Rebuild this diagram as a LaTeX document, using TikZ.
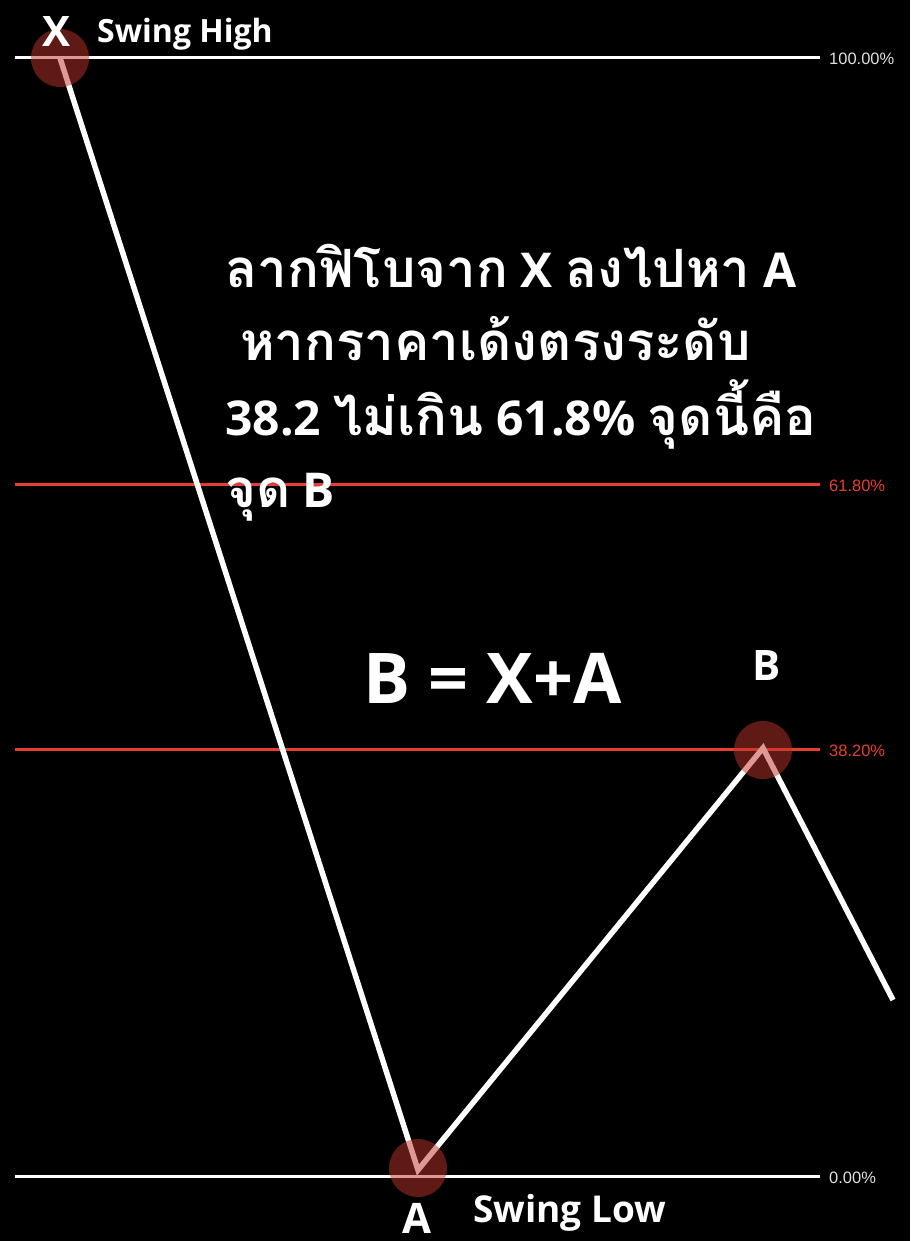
\documentclass[tikz,border=0pt]{standalone}
\usepackage{fontspec}
\setmainfont{Open Sans}
\newfontfamily\thaifont[Script=Thai,Scale=1.1]{Loma}
\newfontfamily\lblfont{Liberation Sans}
\definecolor{fibred}{RGB}{232,62,50}
\definecolor{fibgrey}{RGB}{225,225,225}
\definecolor{dotred}{RGB}{190,52,42}
\begin{document}
\begin{tikzpicture}[x=1pt,y=-1pt,
  hline/.style={line width=3pt},
  wave/.style={white,line width=5.5pt,line join=miter},
  dot/.style={circle,fill=dotred,fill opacity=0.5,minimum size=58pt,inner sep=0pt},
  lvl/.style={anchor=base west,inner sep=0pt,font=\lblfont\fontsize{16.5}{16}\selectfont},
  big/.style={anchor=base,inner sep=0pt,text=white,font=\bfseries\fontsize{42}{42}\selectfont},
  sw/.style={anchor=base west,inner sep=0pt,text=white,font=\bfseries\fontsize{32}{32}\selectfont},
  th/.style={anchor=base west,inner sep=0pt,text=white,font=\bfseries\fontsize{48}{48}\selectfont}]
\fill[black] (0,0) rectangle (910,1241);
\useasboundingbox (0,0) rectangle (910,1241);
% level lines
\coordinate (l100a) at (15,58);  \coordinate (l100b) at (820,58);
\coordinate (l61a) at (15,484);  \coordinate (l61b) at (820,484);
\coordinate (l38a) at (15,749);  \coordinate (l38b) at (820,749);
\coordinate (l0a) at (15,1176);  \coordinate (l0b) at (820,1176);
\draw[hline,white] (l100a) -- (l100b);
\draw[hline,fibred] (l61a) -- (l61b);
\draw[hline,fibred] (l38a) -- (l38b);
\draw[hline,white] (l0a) -- (l0b);
\node[lvl,text=fibgrey] (p100) at (829,65) {100.00\%};
\node[lvl,text=fibred] (p61) at (829,491) {61.80\%};
\node[lvl,text=fibred] (p38) at (829,756) {38.20\%};
\node[lvl,text=fibgrey] (p0) at (829,1183) {0.00\%};
% zigzag
\coordinate (X) at (60,58);
\coordinate (A) at (418,1170);
\coordinate (B) at (763,748);
\coordinate (E) at (893,1000);
\draw[wave] (X) -- (A) -- (B) -- (E);
\node[dot] (dx) at (60,58) {};
\node[dot] (da) at (418,1168) {};
\node[dot] (db) at (763,750) {};
% labels
\node[big] (lx) at (57,47) {X};
\node[sw] (sh) at (97,43) {Swing High};
\node[big] (lb) at (767,680) {B};
\node[big] (la) at (417,1233) {A};
\node[sw,font=\bfseries\fontsize{37}{37}\selectfont] (sl) at (473,1222) {Swing Low};
\node[anchor=base west,inner sep=0pt,text=white,font=\bfseries\fontsize{70}{70}\selectfont] (eq) at (363,703) {B = X+A};
% thai text
\node[th] (t1) at (225,287) {{\thaifont ลากฟิโบจาก} X {\thaifont ลงไปหา} A};
\node[th] (t2) at (240,360) {{\thaifont หากราคาเด้งตรงระดับ}};
\node[th] (t3) at (225,435) {38.2 {\thaifont ไม่เกิน} 61.8\% {\thaifont จุดนี้คือ}};
\node[th] (t4) at (225,507) {{\thaifont จุด} B};
\end{tikzpicture}
\end{document}
